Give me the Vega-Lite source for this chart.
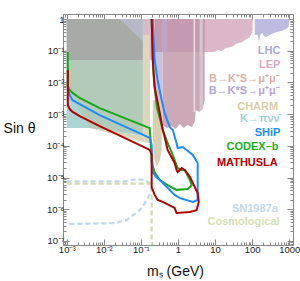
{
  "$schema": "https://vega.github.io/schema/vega-lite/v6.json",
  "width": 230,
  "height": 231,
  "autosize": "none",
  "padding": {"left": 63, "top": 14, "right": 7, "bottom": 36},
  "config": {
    "view": {"stroke": "#888888", "strokeWidth": 1},
    "font": "Liberation Sans",
    "axis": {"domain": false, "grid": false, "tickColor": "#888888", "labelColor": "#222222", "labelFont": "Liberation Sans", "titleFont": "Liberation Sans", "titleColor": "#111111"}
  },
  "datasets": {
    "regions": [
      {"r": "teal", "o": 0, "m": -3, "s": 0}, {"r": "teal", "o": 1, "m": -0.76, "s": 0}, {"r": "teal", "o": 2, "m": -0.76, "s": -3.72}, {"r": "teal", "o": 3, "m": -2.38, "s": -3.44}, {"r": "teal", "o": 4, "m": -3, "s": -3.44},
      {"r": "charm", "o": 0, "m": -2.38, "s": -3.44}, {"r": "charm", "o": 1, "m": -0.82, "s": -3.91}, {"r": "charm", "o": 2, "m": -0.76, "s": -3.91}, {"r": "charm", "o": 3, "m": -0.76, "s": -3.72},
      {"r": "tc", "o": 0, "m": -3, "s": -1.29}, {"r": "tc", "o": 1, "m": -0.95, "s": -1.29}, {"r": "tc", "o": 2, "m": -0.95, "s": -3.63}, {"r": "tc", "o": 3, "m": -2.38, "s": -3.44}, {"r": "tc", "o": 4, "m": -2.51, "s": -3.12}, {"r": "tc", "o": 5, "m": -2.78, "s": -2.56}, {"r": "tc", "o": 6, "m": -3, "s": -2.18},
      {"r": "strip", "o": 0, "m": -0.95, "s": -0.5}, {"r": "strip", "o": 1, "m": -0.76, "s": -0.5}, {"r": "strip", "o": 2, "m": -0.76, "s": -3.72}, {"r": "strip", "o": 3, "m": -0.95, "s": -3.63},
      {"r": "gray", "o": 0, "m": -3, "s": 0}, {"r": "gray", "o": 1, "m": -1.57, "s": 0}, {"r": "gray", "o": 2, "m": -0.95, "s": -0.69}, {"r": "gray", "o": 3, "m": -0.95, "s": -1.29}, {"r": "gray", "o": 4, "m": -3, "s": -1.29},
      {"r": "bluegray", "o": 0, "m": -1.57, "s": 0}, {"r": "bluegray", "o": 1, "m": -0.95, "s": 0}, {"r": "bluegray", "o": 2, "m": -0.95, "s": -0.69},
      {"r": "pinkstrip", "o": 0, "m": -0.95, "s": 0}, {"r": "pinkstrip", "o": 1, "m": -0.63, "s": 0}, {"r": "pinkstrip", "o": 2, "m": -0.63, "s": -1.29}, {"r": "pinkstrip", "o": 3, "m": -0.76, "s": -1.29}, {"r": "pinkstrip", "o": 4, "m": -0.76, "s": -0.5}, {"r": "pinkstrip", "o": 5, "m": -0.95, "s": -0.5},
      {"r": "lep", "o": 0, "m": -0.63, "s": 0}, {"r": "lep", "o": 1, "m": 2.01, "s": 0}, {"r": "lep", "o": 2, "m": 2.01, "s": -0.35}, {"r": "lep", "o": 3, "m": 1.99, "s": -0.44}, {"r": "lep", "o": 4, "m": 1.93, "s": -0.57}, {"r": "lep", "o": 5, "m": 1.85, "s": -0.63}, {"r": "lep", "o": 6, "m": 1.72, "s": -0.73}, {"r": "lep", "o": 7, "m": 1.56, "s": -0.79}, {"r": "lep", "o": 8, "m": 1.45, "s": -0.88}, {"r": "lep", "o": 9, "m": 1.29, "s": -0.91}, {"r": "lep", "o": 10, "m": 1.18, "s": -1.01}, {"r": "lep", "o": 11, "m": 1.07, "s": -0.98}, {"r": "lep", "o": 12, "m": 0.99, "s": -1.04}, {"r": "lep", "o": 13, "m": -0.63, "s": -1.04},
      {"r": "lhc", "o": 0, "m": 2.07, "s": 0}, {"r": "lhc", "o": 1, "m": 3.01, "s": 0}, {"r": "lhc", "o": 2, "m": 2.98, "s": -0.25}, {"r": "lhc", "o": 3, "m": 2.9, "s": -0.32}, {"r": "lhc", "o": 4, "m": 2.79, "s": -0.38}, {"r": "lhc", "o": 5, "m": 2.66, "s": -0.41}, {"r": "lhc", "o": 6, "m": 2.53, "s": -0.47}, {"r": "lhc", "o": 7, "m": 2.42, "s": -0.54}, {"r": "lhc", "o": 8, "m": 2.34, "s": -0.57}, {"r": "lhc", "o": 9, "m": 2.28, "s": -0.44}, {"r": "lhc", "o": 10, "m": 2.23, "s": -0.47}, {"r": "lhc", "o": 11, "m": 2.18, "s": -0.73}, {"r": "lhc", "o": 12, "m": 2.15, "s": -0.5}, {"r": "lhc", "o": 13, "m": 2.07, "s": -0.5},
      {"r": "mauveU", "o": 0, "m": -0.63, "s": 0}, {"r": "mauveU", "o": 1, "m": 0.72, "s": 0}, {"r": "mauveU", "o": 2, "m": 0.72, "s": -1.04}, {"r": "mauveU", "o": 3, "m": -0.63, "s": -1.04},
      {"r": "mauveL", "o": 0, "m": -0.41, "s": -1.04}, {"r": "mauveL", "o": 1, "m": 0.72, "s": -1.04}, {"r": "mauveL", "o": 2, "m": 0.72, "s": -2.56}, {"r": "mauveL", "o": 3, "m": 0.67, "s": -2.81}, {"r": "mauveL", "o": 4, "m": 0.58, "s": -2.93}, {"r": "mauveL", "o": 5, "m": 0.48, "s": -2.87}, {"r": "mauveL", "o": 6, "m": 0.45, "s": -3.25}, {"r": "mauveL", "o": 7, "m": 0.37, "s": -3.41}, {"r": "mauveL", "o": 8, "m": 0.26, "s": -3.34}, {"r": "mauveL", "o": 9, "m": 0.15, "s": -3.44}, {"r": "mauveL", "o": 10, "m": 0.05, "s": -3.31}, {"r": "mauveL", "o": 11, "m": -0.06, "s": -3.47}, {"r": "mauveL", "o": 12, "m": -0.17, "s": -3.38}, {"r": "mauveL", "o": 13, "m": -0.3, "s": -3.44}, {"r": "mauveL", "o": 14, "m": -0.41, "s": -3.34},
      {"r": "lav", "o": 0, "m": -0.63, "s": -1.04}, {"r": "lav", "o": 1, "m": -0.41, "s": -1.04}, {"r": "lav", "o": 2, "m": -0.41, "s": -3.34}, {"r": "lav", "o": 3, "m": -0.63, "s": -3.25},
      {"r": "lavU", "o": 0, "m": -0.44, "s": 0}, {"r": "lavU", "o": 1, "m": -0.3, "s": 0}, {"r": "lavU", "o": 2, "m": -0.3, "s": -1.04}, {"r": "lavU", "o": 3, "m": -0.44, "s": -1.04},
      {"r": "white", "o": 0, "m": 0.42, "s": 0}, {"r": "white", "o": 1, "m": 0.46, "s": 0}, {"r": "white", "o": 2, "m": 0.46, "s": -2.93}, {"r": "white", "o": 3, "m": 0.42, "s": -2.93},
      {"r": "light", "o": 0, "m": 0.58, "s": 0}, {"r": "light", "o": 1, "m": 0.67, "s": 0}, {"r": "light", "o": 2, "m": 0.67, "s": -2.85}, {"r": "light", "o": 3, "m": 0.58, "s": -2.9},
      {"r": "charmext", "o": 0, "m": -0.68, "s": -2.56}, {"r": "charmext", "o": 1, "m": -0.44, "s": -2.56}, {"r": "charmext", "o": 2, "m": -0.44, "s": -4.13}, {"r": "charmext", "o": 3, "m": -0.49, "s": -4.45}, {"r": "charmext", "o": 4, "m": -0.57, "s": -4.67}, {"r": "charmext", "o": 5, "m": -0.65, "s": -4.38}, {"r": "charmext", "o": 6, "m": -0.68, "s": -3.5}
    ],
    "curves": [
      {"c": "CODEX-b", "o": 0, "m": -2.97, "s": -1.04}, {"c": "CODEX-b", "o": 1, "m": -2.97, "s": -2.11}, {"c": "CODEX-b", "o": 2, "m": -2.92, "s": -2.24}, {"c": "CODEX-b", "o": 3, "m": -2.84, "s": -2.33}, {"c": "CODEX-b", "o": 4, "m": -2.65, "s": -2.49}, {"c": "CODEX-b", "o": 5, "m": -2.11, "s": -2.81}, {"c": "CODEX-b", "o": 6, "m": -0.76, "s": -3.44}, {"c": "CODEX-b", "o": 7, "m": -0.74, "s": -3.82}, {"c": "CODEX-b", "o": 8, "m": -0.71, "s": -4.54}, {"c": "CODEX-b", "o": 9, "m": -0.63, "s": -4.83}, {"c": "CODEX-b", "o": 10, "m": -0.49, "s": -5.08}, {"c": "CODEX-b", "o": 11, "m": -0.28, "s": -5.24}, {"c": "CODEX-b", "o": 12, "m": -0.04, "s": -5.39}, {"c": "CODEX-b", "o": 13, "m": 0.26, "s": -5.36}, {"c": "CODEX-b", "o": 14, "m": 0.37, "s": -5.24}, {"c": "CODEX-b", "o": 15, "m": 0.32, "s": -5.08}, {"c": "CODEX-b", "o": 16, "m": 0.18, "s": -4.76}, {"c": "CODEX-b", "o": 17, "m": 0.1, "s": -4.76}, {"c": "CODEX-b", "o": 18, "m": -0.01, "s": -4.7}, {"c": "CODEX-b", "o": 19, "m": -0.04, "s": -4.61}, {"c": "CODEX-b", "o": 20, "m": -0.14, "s": -4.29}, {"c": "CODEX-b", "o": 21, "m": -0.28, "s": -3.91}, {"c": "CODEX-b", "o": 22, "m": -0.41, "s": -3.5}, {"c": "CODEX-b", "o": 23, "m": -0.57, "s": -2.78}, {"c": "CODEX-b", "o": 24, "m": -0.65, "s": -1.92}, {"c": "CODEX-b", "o": 25, "m": -0.68, "s": -1.29}, {"c": "CODEX-b", "o": 26, "m": -0.71, "s": 0},
      {"c": "SHiP", "o": 0, "m": -2.97, "s": -2.15}, {"c": "SHiP", "o": 1, "m": -2.92, "s": -2.4}, {"c": "SHiP", "o": 2, "m": -2.84, "s": -2.56}, {"c": "SHiP", "o": 3, "m": -2.7, "s": -2.65}, {"c": "SHiP", "o": 4, "m": -2.11, "s": -3.03}, {"c": "SHiP", "o": 5, "m": -0.76, "s": -3.75}, {"c": "SHiP", "o": 6, "m": -0.71, "s": -3.97}, {"c": "SHiP", "o": 7, "m": -0.68, "s": -4.83}, {"c": "SHiP", "o": 8, "m": -0.6, "s": -4.98}, {"c": "SHiP", "o": 9, "m": -0.49, "s": -5.08}, {"c": "SHiP", "o": 10, "m": -0.09, "s": -5.55}, {"c": "SHiP", "o": 11, "m": 0.05, "s": -5.65}, {"c": "SHiP", "o": 12, "m": 0.4, "s": -5.77}, {"c": "SHiP", "o": 13, "m": 0.53, "s": -5.71}, {"c": "SHiP", "o": 14, "m": 0.53, "s": -4.54}, {"c": "SHiP", "o": 15, "m": 0.4, "s": -4.29}, {"c": "SHiP", "o": 16, "m": 0.13, "s": -4.04}, {"c": "SHiP", "o": 17, "m": -0.01, "s": -4.07}, {"c": "SHiP", "o": 18, "m": -0.04, "s": -3.91}, {"c": "SHiP", "o": 19, "m": -0.14, "s": -3.5}, {"c": "SHiP", "o": 20, "m": -0.22, "s": -3.41}, {"c": "SHiP", "o": 21, "m": -0.36, "s": -2.97}, {"c": "SHiP", "o": 22, "m": -0.44, "s": -2.56}, {"c": "SHiP", "o": 23, "m": -0.55, "s": -1.92}, {"c": "SHiP", "o": 24, "m": -0.63, "s": -1.29}, {"c": "SHiP", "o": 25, "m": -0.68, "s": 0},
      {"c": "MATHUSLA", "o": 0, "m": -2.97, "s": -1.61}, {"c": "MATHUSLA", "o": 1, "m": -2.97, "s": -2.71}, {"c": "MATHUSLA", "o": 2, "m": -2.92, "s": -2.84}, {"c": "MATHUSLA", "o": 3, "m": -2.84, "s": -2.93}, {"c": "MATHUSLA", "o": 4, "m": -2.65, "s": -3.06}, {"c": "MATHUSLA", "o": 5, "m": -2.11, "s": -3.38}, {"c": "MATHUSLA", "o": 6, "m": -0.76, "s": -4.13}, {"c": "MATHUSLA", "o": 7, "m": -0.71, "s": -4.29}, {"c": "MATHUSLA", "o": 8, "m": -0.71, "s": -5.3}, {"c": "MATHUSLA", "o": 9, "m": -0.63, "s": -5.55}, {"c": "MATHUSLA", "o": 10, "m": -0.55, "s": -5.71}, {"c": "MATHUSLA", "o": 11, "m": -0.41, "s": -5.77}, {"c": "MATHUSLA", "o": 12, "m": -0.09, "s": -5.96}, {"c": "MATHUSLA", "o": 13, "m": -0.04, "s": -6.12}, {"c": "MATHUSLA", "o": 14, "m": 0.32, "s": -6.09}, {"c": "MATHUSLA", "o": 15, "m": 0.5, "s": -6.03}, {"c": "MATHUSLA", "o": 16, "m": 0.56, "s": -5.77}, {"c": "MATHUSLA", "o": 17, "m": 0.53, "s": -5.49}, {"c": "MATHUSLA", "o": 18, "m": 0.32, "s": -4.98}, {"c": "MATHUSLA", "o": 19, "m": 0.18, "s": -4.76}, {"c": "MATHUSLA", "o": 20, "m": 0.1, "s": -4.7}, {"c": "MATHUSLA", "o": 21, "m": -0.01, "s": -4.83}, {"c": "MATHUSLA", "o": 22, "m": -0.04, "s": -4.76}, {"c": "MATHUSLA", "o": 23, "m": -0.09, "s": -4.54}, {"c": "MATHUSLA", "o": 24, "m": -0.28, "s": -4.13}, {"c": "MATHUSLA", "o": 25, "m": -0.36, "s": -3.72}, {"c": "MATHUSLA", "o": 26, "m": -0.41, "s": -3.5}, {"c": "MATHUSLA", "o": 27, "m": -0.49, "s": -2.97}, {"c": "MATHUSLA", "o": 28, "m": -0.63, "s": -2.15}, {"c": "MATHUSLA", "o": 29, "m": -0.68, "s": -1.29}, {"c": "MATHUSLA", "o": 30, "m": -0.71, "s": 0}
    ],
    "dashed": [
      {"d": "SN1987a", "o": 0, "m": -3, "s": -5.12}, {"d": "SN1987a", "o": 1, "m": -1.44, "s": -5.12}, {"d": "SN1987a", "o": 2, "m": -1.11, "s": -5.05}, {"d": "SN1987a", "o": 3, "m": -0.9, "s": -5.08}, {"d": "SN1987a", "o": 4, "m": -0.76, "s": -5.17}, {"d": "SN1987a", "o": 5, "m": -0.71, "s": -5.3}, {"d": "SN1987a", "o": 6, "m": -0.74, "s": -5.46}, {"d": "SN1987a", "o": 7, "m": -0.84, "s": -5.71}, {"d": "SN1987a", "o": 8, "m": -1.03, "s": -6.03}, {"d": "SN1987a", "o": 9, "m": -1.38, "s": -6.34}, {"d": "SN1987a", "o": 10, "m": -1.71, "s": -6.44}, {"d": "SN1987a", "o": 11, "m": -3, "s": -6.47},
      {"d": "Cosmological", "o": 0, "m": -3, "s": -5.19}, {"d": "Cosmological", "o": 1, "m": -0.71, "s": -5.19}, {"d": "Cosmological", "o": 2, "m": -0.71, "s": -7.13}
    ],
    "labels": [
      {"t": "LHC", "m": 2.76, "s": -1.01},
      {"t": "LEP", "m": 2.76, "s": -1.45},
      {"t": "B→K⁺S→μ⁺μ⁻", "m": 2.74, "s": -1.89},
      {"t": "B→K*S→μ⁺μ⁻", "m": 2.74, "s": -2.27},
      {"t": "CHARM", "m": 2.7, "s": -2.78},
      {"t": "K→πνν̄", "m": 2.74, "s": -3.15},
      {"t": "SHiP", "m": 2.76, "s": -3.6},
      {"t": "CODEX–b", "m": 2.71, "s": -4.04},
      {"t": "MATHUSLA", "m": 2.69, "s": -4.54},
      {"t": "SN1987a", "m": 2.69, "s": -5.99},
      {"t": "Cosmological", "m": 2.74, "s": -6.4}
    ]
  },
  "layer": [
    {
      "data": {"name": "regions"},
      "mark": {"type": "line", "filled": true, "strokeWidth": 0, "interpolate": "linear"},
      "encoding": {
        "x": {"field": "m", "type": "quantitative", "scale": {"domain": [-3.1, 3.1], "nice": false, "zero": false},
          "axis": {"orient": "bottom", "values": [-3, -2, -1, 0, 1, 2, 3], "labelExpr": "['10⁻³','10⁻²','10⁻¹','1','10','100','1000'][datum.value + 3]", "tickSize": -6, "labelPadding": 5, "labelFontSize": 9.5, "labelFlush": false, "labelOverlap": false, "title": "mₛ (GeV)", "titleFontSize": 14, "titleFontWeight": "normal", "titleX": 112, "titleY": 26, "titleBaseline": "middle", "titleAlign": "center"}},
        "y": {"field": "s", "type": "quantitative", "scale": {"domain": [-7.13, 0.16], "nice": false, "zero": false},
          "axis": {"orient": "left", "values": [0, -1, -2, -3, -4, -5, -6, -7], "labelExpr": "['1','10⁻¹','10⁻²','10⁻³','10⁻⁴','10⁻⁵','10⁻⁶','10⁻⁷'][-datum.value]", "tickSize": -6, "labelPadding": 5, "labelFontSize": 9.5, "labelFlush": false, "labelOverlap": false, "title": "Sin θ", "titleAngle": 0, "titleX": -44, "titleY": 114, "titleAlign": "center", "titleBaseline": "middle", "titleFontSize": 14, "titleFontWeight": "normal"}},
        "color": {"field": "r", "type": "nominal", "legend": null,
          "scale": {"domain": ["teal", "charm", "tc", "strip", "gray", "bluegray", "pinkstrip", "lep", "lhc", "mauveU", "mauveL", "lav", "lavU", "white", "light", "charmext"],
            "range": ["#abd4d3", "#dcd6b8", "#b4cab8", "#ddd6bd", "#a7aaa6", "#b5b9c5", "#d9bccb", "#dcb7c9", "#bebbe0", "#c49aaf", "#cba9b7", "#cbc1dc", "#bba5c8", "#ebe0e6", "#d7c3ce", "#d8d0b2"]}},
        "order": {"field": "o", "type": "quantitative"}
      }
    },
    {
      "data": {"name": "dashed"},
      "mark": {"type": "line", "strokeWidth": 2.2, "strokeDash": [5, 3]},
      "encoding": {
        "x": {"field": "m", "type": "quantitative", "scale": {"domain": [-3.1, 3.1], "nice": false, "zero": false},
          "axis": {"orient": "top", "values": [-3, -2, -1, 0, 1, 2, 3], "labels": false, "tickSize": -6, "title": null}},
        "y": {"field": "s", "type": "quantitative", "scale": {"domain": [-7.13, 0.16], "nice": false, "zero": false},
          "axis": {"orient": "right", "values": [0, -1, -2, -3, -4, -5, -6, -7], "labels": false, "tickSize": -6, "title": null}},
        "color": {"field": "d", "type": "nominal", "legend": null, "scale": {"domain": ["SN1987a", "Cosmological"], "range": ["#bdd7ef", "#d0dcab"]}},
        "order": {"field": "o", "type": "quantitative"}
      }
    },
    {
      "data": {"name": "curves"},
      "mark": {"type": "line", "strokeWidth": 2},
      "encoding": {
        "x": {"field": "m", "type": "quantitative", "scale": {"domain": [-3.1, 3.1], "nice": false, "zero": false},
          "axis": {"orient": "bottom", "values": [-3.097, -3.046, -2.699, -2.523, -2.398, -2.301, -2.222, -2.155, -2.097, -2.046, -1.699, -1.523, -1.398, -1.301, -1.222, -1.155, -1.097, -1.046, -0.699, -0.523, -0.398, -0.301, -0.222, -0.155, -0.097, -0.046, 0.301, 0.477, 0.602, 0.699, 0.778, 0.845, 0.903, 0.954, 1.301, 1.477, 1.602, 1.699, 1.778, 1.845, 1.903, 1.954, 2.301, 2.477, 2.602, 2.699, 2.778, 2.845, 2.903, 2.954], "labels": false, "tickSize": -3, "title": null}},
        "y": {"field": "s", "type": "quantitative", "scale": {"domain": [-7.13, 0.16], "nice": false, "zero": false},
          "axis": {"orient": "left", "values": [-7.097, -7.046, -6.699, -6.523, -6.398, -6.301, -6.222, -6.155, -6.097, -6.046, -5.699, -5.523, -5.398, -5.301, -5.222, -5.155, -5.097, -5.046, -4.699, -4.523, -4.398, -4.301, -4.222, -4.155, -4.097, -4.046, -3.699, -3.523, -3.398, -3.301, -3.222, -3.155, -3.097, -3.046, -2.699, -2.523, -2.398, -2.301, -2.222, -2.155, -2.097, -2.046, -1.699, -1.523, -1.398, -1.301, -1.222, -1.155, -1.097, -1.046, -0.699, -0.523, -0.398, -0.301, -0.222, -0.155, -0.097, -0.046], "labels": false, "tickSize": -3, "title": null}},
        "color": {"field": "c", "type": "nominal", "legend": null, "scale": {"domain": ["CODEX-b", "SHiP", "MATHUSLA"], "range": ["#16a816", "#1a8cff", "#b40000"]}},
        "order": {"field": "o", "type": "quantitative"}
      }
    },
    {
      "data": {"name": "labels"},
      "mark": {"type": "text", "align": "right", "baseline": "middle", "fontSize": 11, "fontWeight": "bold", "font": "Liberation Sans"},
      "encoding": {
        "x": {"field": "m", "type": "quantitative", "scale": {"domain": [-3.1, 3.1], "nice": false, "zero": false},
          "axis": {"orient": "top", "values": [-3.097, -3.046, -2.699, -2.523, -2.398, -2.301, -2.222, -2.155, -2.097, -2.046, -1.699, -1.523, -1.398, -1.301, -1.222, -1.155, -1.097, -1.046, -0.699, -0.523, -0.398, -0.301, -0.222, -0.155, -0.097, -0.046, 0.301, 0.477, 0.602, 0.699, 0.778, 0.845, 0.903, 0.954, 1.301, 1.477, 1.602, 1.699, 1.778, 1.845, 1.903, 1.954, 2.301, 2.477, 2.602, 2.699, 2.778, 2.845, 2.903, 2.954], "labels": false, "tickSize": -3, "title": null}},
        "y": {"field": "s", "type": "quantitative", "scale": {"domain": [-7.13, 0.16], "nice": false, "zero": false},
          "axis": {"orient": "right", "values": [-7.097, -7.046, -6.699, -6.523, -6.398, -6.301, -6.222, -6.155, -6.097, -6.046, -5.699, -5.523, -5.398, -5.301, -5.222, -5.155, -5.097, -5.046, -4.699, -4.523, -4.398, -4.301, -4.222, -4.155, -4.097, -4.046, -3.699, -3.523, -3.398, -3.301, -3.222, -3.155, -3.097, -3.046, -2.699, -2.523, -2.398, -2.301, -2.222, -2.155, -2.097, -2.046, -1.699, -1.523, -1.398, -1.301, -1.222, -1.155, -1.097, -1.046, -0.699, -0.523, -0.398, -0.301, -0.222, -0.155, -0.097, -0.046], "labels": false, "tickSize": -3, "title": null}},
        "text": {"field": "t", "type": "nominal"},
        "color": {"field": "t", "type": "nominal", "legend": null,
          "scale": {"domain": ["LHC", "LEP", "B→K⁺S→μ⁺μ⁻", "B→K*S→μ⁺μ⁻", "CHARM", "K→πνν̄", "SHiP", "CODEX–b", "MATHUSLA", "SN1987a", "Cosmological"],
            "range": ["#a9a7d8", "#d8a9bf", "#dbb0a8", "#b3a4d8", "#d6cfa6", "#9fd2d2", "#1a8cff", "#19b019", "#b40000", "#bfd7ee", "#d4deb2"]}}
      }
    }
  ],
  "resolve": {"axis": {"x": "independent", "y": "independent"}, "scale": {"color": "independent"}}
}
